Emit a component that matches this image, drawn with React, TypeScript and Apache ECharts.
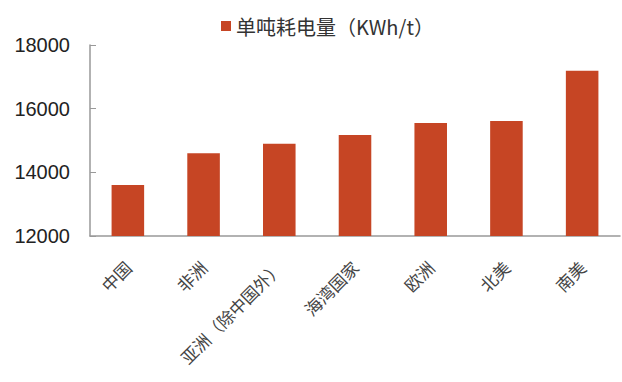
import React, { useEffect, useRef } from "react";
import * as echarts from "echarts";

const categories = ["中国", "非洲", "亚洲（除中国外）", "海湾国家", "欧洲", "北美", "南美"];
const values = [13600, 14600, 14900, 15170, 15550, 15610, 17190];
const seriesName = "单吨耗电量（KWh/t）";
const yMin = 12000;
const yMax = 18000;
const yInterval = 2000;

export default function App() {
  const ref = useRef<HTMLDivElement>(null);
  useEffect(() => {
    if (!ref.current) return;
    const chart = echarts.init(ref.current, null, { renderer: "svg" });
    chart.setOption({
      animation: false,
      backgroundColor: "#ffffff",
      legend: {
        data: [seriesName],
        left: 216,
        top: 11,
        icon: "rect",
        itemWidth: 10,
        itemHeight: 10,
        itemGap: 6,
        textStyle: {
          fontSize: 20,
          color: "#333333",
          fontFamily: "Noto Sans CJK SC, Liberation Sans, sans-serif",
        },
      },
      grid: { left: 90, right: 2, top: 45, bottom: 146 },
      xAxis: {
        type: "category",
        data: categories,
        axisLine: { lineStyle: { color: "#999999", width: 1.5 } },
        axisTick: { inside: true, length: 5, lineStyle: { color: "#999999" } },
        axisLabel: {
          rotate: 45,
          margin: 28,
          fontSize: 17,
          color: "#444444",
          fontFamily: "Noto Sans CJK SC, sans-serif",
        },
      },
      yAxis: {
        type: "value",
        min: yMin,
        max: yMax,
        interval: yInterval,
        splitLine: { show: false },
        axisLine: { show: true, lineStyle: { color: "#999999", width: 1.5 } },
        axisTick: { show: true, inside: true, length: 6, lineStyle: { color: "#999999" } },
        axisLabel: {
          margin: 20,
          fontSize: 20,
          color: "#222222",
          fontFamily: "Liberation Sans, Arial, sans-serif",
          formatter: (v: number) => String(v),
        },
      },
      series: [
        {
          name: seriesName,
          type: "bar",
          data: values,
          barCategoryGap: "57%",
          itemStyle: { color: "#C64524" },
        },
      ],
    });
    return () => chart.dispose();
  }, []);
  return (
    <div
      ref={ref}
      style={{ position: "absolute", left: 0, top: 0, width: 622, height: 382 }}
    />
  );
}
